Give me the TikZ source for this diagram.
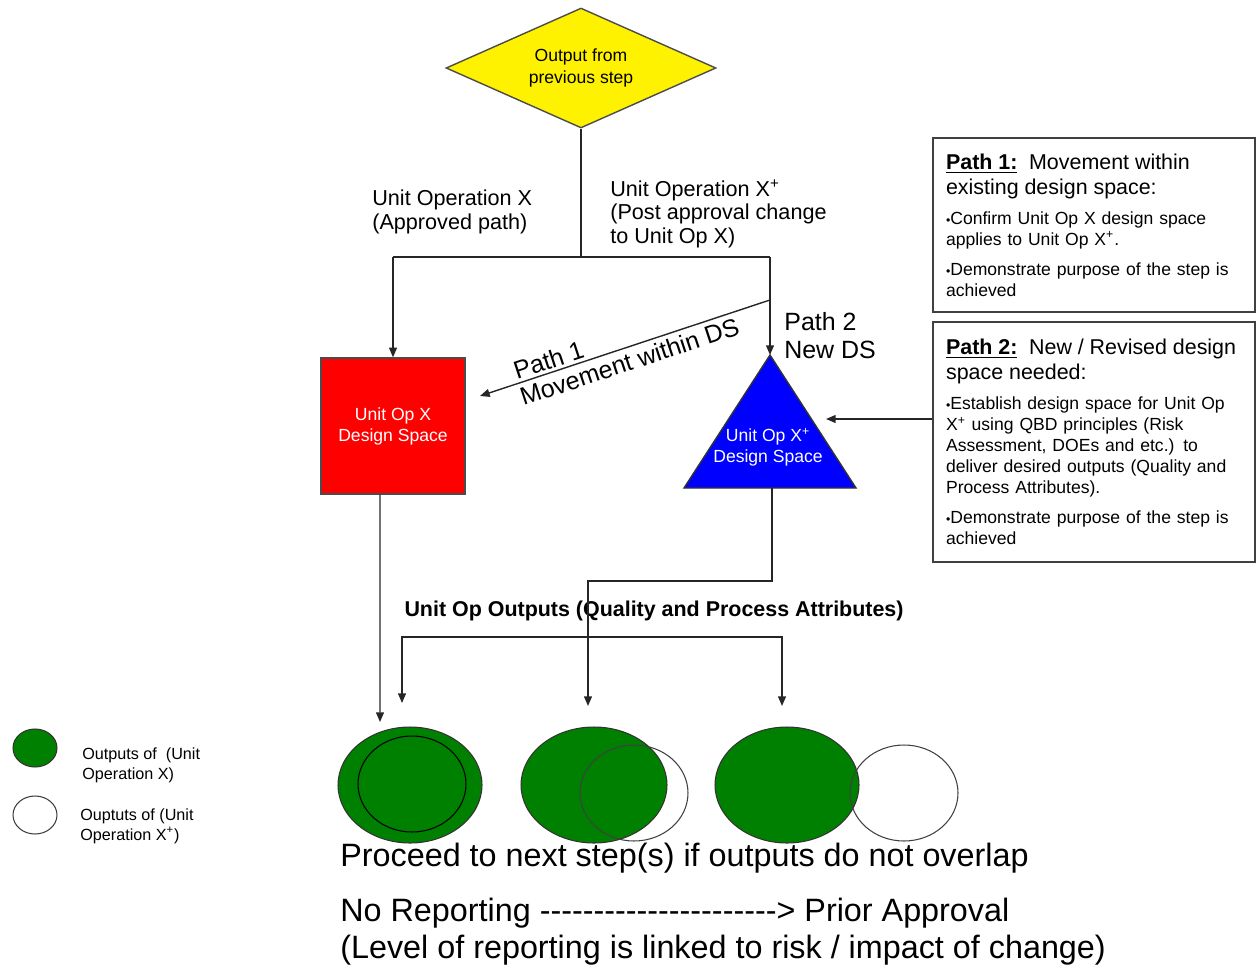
\documentclass[tikz,border=0pt]{standalone}
\usepackage{fontspec}
\setmainfont{Liberation Sans}
\usetikzlibrary{shapes.geometric,arrows.meta,positioning}
\definecolor{dsgreen}{RGB}{0,128,0}
\tikzset{
line/.style={draw=black!85,line width=0.8pt},
arr/.style={line,-{Triangle[length=5.5pt,width=4.5pt]}},
dec/.style={diamond,aspect=2.25,draw=black!70,fill=yellow,line width=0.8pt,
minimum width=5.4cm,minimum height=2.4cm,inner sep=0pt,
align=center,font=\fontsize{10}{12}\selectfont},
dsbox/.style={rectangle,draw=black!70,fill=red,line width=0.8pt,
minimum width=2.88cm,minimum height=2.72cm,text=white,
align=center,font=\fontsize{10}{12}\selectfont},
dstext/.style={text=white,align=center,font=\fontsize{10}{11.5}\selectfont},
note/.style={rectangle,draw=black!75,line width=0.8pt,
text width=5.92cm,inner xsep=0.26cm,align=left},
lbl/.style={align=left,inner sep=0pt,font=\fontsize{12.3}{13.6}\selectfont},
big/.style={align=left,inner sep=0pt,font=\fontsize{14.2}{16}\selectfont},
gout/.style={ellipse,draw=black!80,fill=dsgreen,line width=0.6pt,inner sep=0pt},
xout/.style={ellipse,draw=black!75,line width=0.6pt,inner sep=0pt},
keytext/.style={align=left,inner sep=0pt,font=\fontsize{9.2}{11.4}\selectfont}
}
\newcommand\titlefont{\fontsize{12.2}{14.2}\selectfont}
\newcommand\itemfont{\fontsize{10}{12}\selectfont}
\newcommand\bul{{\fontsize{7}{7}\selectfont\textbullet}}
\newcommand\dashrun[1]{\foreach\dd in {1,...,#1}{-}}

\begin{document}
\begin{tikzpicture}[x=0.02cm,y=-0.02cm]
\useasboundingbox (0,0) rectangle (1257,970);

\node[dec] (prev) at (581,68) {Output from\\previous step};
\coordinate (jc) at (582,257);
\coordinate (jl) at (393,257);
\coordinate (jr) at (770,257);
\node[lbl,anchor=west] (lux) at (372,212) {Unit Operation X\\(Approved path)};
\node[lbl,anchor=west] (luxp) at (610,214) {Unit Operation X\textsuperscript{+}\\(Post approval change\\to Unit Op X)};

\node[dsbox] (uopx) at (393,426) {Unit Op X\\Design Space};
% triangle for X+
\coordinate (apex) at (770,355);
\coordinate (tr) at (856,488);
\coordinate (tl) at (684,488);
\coordinate (tb) at (772,488);
\draw[draw=black!80,line width=0.8pt,fill=blue] (apex) -- (tr) -- (tl) -- cycle;
\node[dstext] (uopxp) at (768,447) {Unit Op X\textsuperscript{+}\\Design Space};

\node[note,minimum height=3.48cm] (p1) at (1094,225) {%
{\titlefont\underline{\textbf{Path 1:}}\ \ Movement within\\existing design space:\par}
\vspace{5pt}
{\itemfont\bul Confirm Unit Op X design space\\applies to Unit Op X\textsuperscript{+}.\par}
\vspace{5pt}
{\itemfont\bul Demonstrate purpose of the step is\\achieved\par}};
\node[note,minimum height=4.8cm] (p2) at (1094,442) {%
{\titlefont\underline{\textbf{Path 2:}}\ \ New / Revised design\\space needed:\par}
\vspace{5pt}
{\itemfont\bul Establish design space for Unit Op\\X\textsuperscript{+} using QBD principles (Risk\\Assessment, DOEs and etc.) to\\deliver desired outputs (Quality and\\Process Attributes).\par}
\vspace{5pt}
{\itemfont\bul Demonstrate purpose of the step is\\achieved\par}};

\draw[line] (prev.south) -- (prev.south |- jc);
\draw[line] (jl) -- (jr);
\draw[arr] (jl) -- (uopx.north);
\draw[arr] (jr) -- (apex);
\coordinate (p1s) at (770,300);
\coordinate (p1e) at (480,396);
\draw[line,{Triangle[length=5.5pt,width=4.5pt]}-] (p1e) -- (p1s)
  node[pos=0.25,sloped,above,big,inner sep=1.5pt] (p1lbl) {Path 1}
  node[pos=0.5,sloped,below,big,inner sep=2.5pt] (p1sub) {Movement within DS};
\node[big,anchor=west] (p2lbl) at (784,336) {Path 2\\New DS};
\coordinate (tin) at (826,419);
\draw[arr] (p2.west |- tin) -- (tin);

% outputs
\node[font=\bfseries\fontsize{12.2}{14}\selectfont] (uoo) at (654,611) {Unit Op Outputs (Quality and Process Attributes)};
\coordinate (k1) at (588,581);
\coordinate (a2) at (588,706);
\draw[arr] (tb) |- (k1) -- (a2);
\coordinate (b1) at (402,703);
\coordinate (bc) at (782,637);
\coordinate (b2) at (782,706);
\draw[line,{Triangle[length=5.5pt,width=4.5pt]}-{Triangle[length=5.5pt,width=4.5pt]}] (b1) |- (bc) -- (b2);
\coordinate (a1) at (380,722);
\draw[arr] ([xshift=-0.26cm]uopx.south) -- (a1);

\node[gout,minimum width=2.88cm,minimum height=2.32cm] (o1) at (410,785) {};
\node[xout,draw=black,minimum width=2.16cm,minimum height=1.92cm] (o1x) at (412,784) {};
\node[gout,minimum width=2.92cm,minimum height=2.32cm] (o2) at (594,785) {};
\node[xout,minimum width=2.16cm,minimum height=1.92cm] (o2x) at (634,793) {};
\node[gout,minimum width=2.88cm,minimum height=2.32cm] (o3) at (787,785) {};
\node[xout,minimum width=2.16cm,minimum height=1.92cm] (o3x) at (904,793) {};

% key
\node[gout,minimum width=0.88cm,minimum height=0.76cm] (k1e) at (35,748) {};
\node[xout,fill=white,minimum width=0.88cm,minimum height=0.76cm] (k2e) at (35,815) {};
\node[keytext,anchor=west] (k1t) at (82,765) {Outputs of\ \ (Unit\\Operation X)};
\node[keytext,anchor=west] (k2t) at (80,826) {Ouptuts of (Unit\\Operation X\textsuperscript{+})};

\node[anchor=west,inner sep=0pt,font=\fontsize{18.4}{21}\selectfont] (proceed) at (340,858) {Proceed to next step(s) if outputs do not overlap};
\node[anchor=west,inner sep=0pt,align=left,font=\fontsize{18.4}{21}\selectfont] (report) at (340,931.5) {No Reporting \dashrun{22}> Prior Approval\\(Level of reporting is linked to risk / impact of change)};
\end{tikzpicture}
\end{document}
